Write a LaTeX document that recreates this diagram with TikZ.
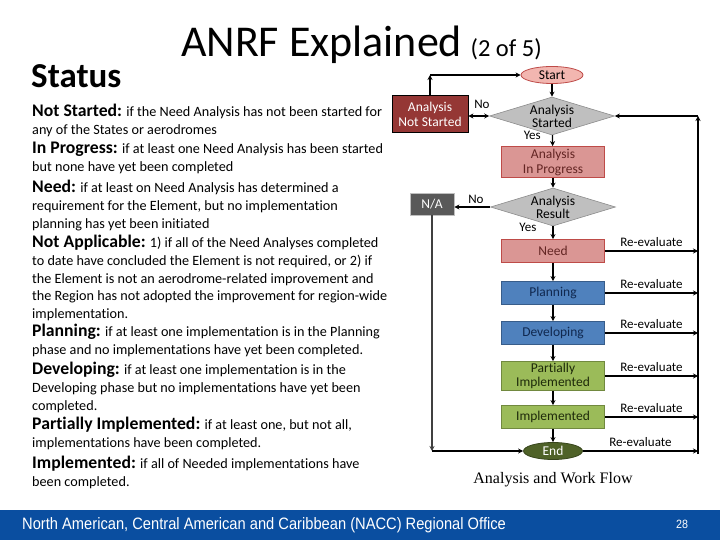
\documentclass[tikz,border=0pt]{standalone}
\usepackage{fontspec}
\setmainfont{Carlito}[Ligatures=NoCommon]
\newfontfamily\footfont[FakeStretch=0.89]{Liberation Sans}
\newfontfamily\capfont{Liberation Serif}
\usepackage{xcolor}
\usetikzlibrary{arrows.meta, positioning, shapes.geometric}

\definecolor{nsred}{HTML}{953735}
\definecolor{startfill}{HTML}{F2B6B0}
\definecolor{redline}{HTML}{BE4B48}
\definecolor{pinkfill}{HTML}{DA9694}
\definecolor{pinktext}{HTML}{632523}
\definecolor{decfill}{HTML}{BFBFBF}
\definecolor{decline}{HTML}{8C8C8C}
\definecolor{bluefill}{HTML}{4F81BD}
\definecolor{blueline}{HTML}{385D8A}
\definecolor{bluetext}{HTML}{10284F}
\definecolor{greenfill}{HTML}{9BBB59}
\definecolor{greenline}{HTML}{71893F}
\definecolor{greentext}{HTML}{1E2A0A}
\definecolor{endfill}{HTML}{4F6228}
\definecolor{nafill}{HTML}{595959}
\definecolor{footblue}{HTML}{0A4EA0}

\newcommand{\term}[1]{{\fontsize{17.7}{17.7}\selectfont\bfseries #1}}

\begin{document}
\begin{tikzpicture}[
  x=1pt, y=-1pt,
  desc/.style={anchor=north west, align=left, inner sep=0pt, font=\fontsize{14.2}{17.7}\selectfont},
  stage/.style={draw, minimum width=103pt, minimum height=23pt, inner sep=1pt, align=center, line width=0.8pt, font=\fontsize{13.5}{15}\selectfont},
  term/.style={ellipse, draw, minimum width=62pt, minimum height=17pt, inner sep=0pt, line width=0.8pt, font=\fontsize{13.5}{15}\selectfont},
  decision/.style={diamond, draw=decline, fill=decfill, aspect=3.3, inner sep=-2.5pt, minimum width=125pt, minimum height=38pt, align=center, line width=0.6pt, font=\fontsize{13.5}{13}\selectfont},
  flow/.style={-{Stealth[length=5pt, width=5pt]}, line width=1.3pt},
  lbl/.style={font=\fontsize{13}{15}\selectfont, inner sep=1pt},
  relbl/.style={font=\fontsize{13}{15}\selectfont, inner sep=1pt, above=3pt}
]
  \useasboundingbox (0,0) rectangle (720,540);

  % Title
  \node[anchor=base west, inner sep=0pt, font=\fontsize{44}{50}\selectfont] (title) at (181,57) {ANRF Explained};
  \node[inner sep=0pt, font=\fontsize{24.5}{28}\selectfont, right=8pt of title.base east, anchor=base west] (part) {(2 of 5)};
  \node[anchor=base west, inner sep=0pt, font=\fontsize{35}{40}\selectfont\bfseries] (status) at (31,88) {Status};

  % Status descriptions
  \node[desc] (d1) at (32,104) {\term{Not Started:} if the Need Analysis has not been started for\\any of the States or aerodromes};
  \node[desc] (d2) at (32,142) {\term{In Progress:} if at least one Need Analysis has been started\\but none have yet been completed};
  \node[desc] (d3) at (32,180) {\term{Need:} if at least on Need Analysis has determined a\\requirement for the Element, but no implementation\\planning has yet been initiated};
  \node[desc] (d4) at (32,235) {\term{Not Applicable:} 1) if all of the Need Analyses completed\\to date have concluded the Element is not required, or 2) if\\the Element is not an aerodrome-related improvement and\\the Region has not adopted the improvement for region-wide\\implementation.};
  \node[desc] (d5) at (32,324) {\term{Planning:} if at least one implementation is in the Planning\\phase and no implementations have yet been completed.};
  \node[desc] (d6) at (32,362) {\term{Developing:} if at least one implementation is in the\\Developing phase but no implementations have yet been\\completed.};
  \node[desc] (d7) at (32,417) {\term{Partially Implemented:} if at least one, but not all,\\implementations have been completed.};
  \node[desc] (d8) at (32,456) {\term{Implemented:} if all of Needed implementations have\\been completed.};

  % Flow chart
  \node[term, fill=startfill, draw=redline] (start) at (552,75) {Start};
  \node[decision] (started) at (552,116) {Analysis\\Started};
  \node[stage, fill=nsred, draw=black, text=white, minimum width=76pt, minimum height=37pt] (notstarted) at (430,114) {Analysis\\Not Started};
  \node[stage, fill=pinkfill, draw=redline, text=pinktext, minimum height=31pt] (progress) at (553,162) {Analysis\\In Progress};
  \node[decision] (result) at (553,207) {Analysis\\Result};
  \node[stage, fill=nafill, draw=decfill, text=white, minimum width=44pt, minimum height=22pt] (na) at (432,204) {N/A};
  \node[stage, fill=pinkfill, draw=redline, text=pinktext] (need) at (553,251) {Need};
  \node[stage, fill=bluefill, draw=blueline, text=bluetext] (planning) at (553,293) {Planning};
  \node[stage, fill=bluefill, draw=blueline, text=bluetext] (developing) at (553,333) {Developing};
  \node[stage, fill=greenfill, draw=greenline, text=greentext, minimum height=29pt, font=\fontsize{13.5}{13.5}\selectfont] (partial) at (553,376) {Partially\\Implemented};
  \node[stage, fill=greenfill, draw=greenline, text=greentext] (implemented) at (553,417) {Implemented};
  \node[term, fill=endfill, draw=endfill!70!black, text=white, minimum width=59pt] (end) at (553,451) {End};

  \coordinate (loop) at (698,116);

  % Main column
  \draw[flow] (start) -- (started);
  \draw[flow] (started) -- node[lbl, pos=0.05, left=10pt] {Yes} (progress);
  \draw[flow] (progress) -- (result);
  \draw[flow] (result) -- node[lbl, pos=0.1, left=15pt] {Yes} (need);
  \draw[flow] (need) -- (planning);
  \draw[flow] (planning) -- (developing);
  \draw[flow] (developing) -- (partial);
  \draw[flow] (partial) -- (implemented);
  \draw[flow] (implemented) -- (end);

  % Not started branch
  \draw[flow, {Stealth[length=5pt, width=5pt]}-{Stealth[length=5pt, width=5pt]}] (started.west) -- node[lbl, pos=0.35, above=6pt] {No} (started.west -| notstarted.east);
  \draw[flow] (notstarted.north) -- (notstarted.north |- start.west);
  \draw[flow] (notstarted.north |- start.west) -- (start.west);

  % N/A branch
  \draw[flow] (result.west) -- node[lbl, pos=0.4, above=2pt] {No} (result.west -| na.east);
  \draw[flow, black!75] (na.south) -- (na.south |- end.west);
  \draw[flow] (na.south |- end.west) -- (end.west);

  % Re-evaluate
  \draw[flow] (need.east) -- node[relbl] {Re-evaluate} (need.east -| loop);
  \draw[flow] (planning.east) -- node[relbl] {Re-evaluate} (planning.east -| loop);
  \draw[flow] (developing.east) -- node[relbl] {Re-evaluate} (developing.east -| loop);
  \draw[flow] (partial.east) -- node[relbl] {Re-evaluate} (partial.east -| loop);
  \draw[flow] (implemented.east) -- node[relbl] {Re-evaluate} (implemented.east -| loop);
  \draw[flow] (end.east) -- node[relbl] {Re-evaluate} (end.east -| loop);
  \draw[flow] ([yshift=-3pt]end.east -| loop) -- (loop);
  \draw[flow] (loop) -- (started.east);

  \node[font=\capfont\fontsize{16}{18}\selectfont, below=9pt of end] (caption) {Analysis and Work Flow};

  % Footer
  \fill[footblue] (0,510) rectangle (720,540);
  \node[anchor=west, inner sep=0pt, text=white, font=\footfont\fontsize{16.5}{18}\selectfont] (office) at (22,525) {North American, Central American and Caribbean (NACC) Regional Office};
  \node[inner sep=0pt, text=white, font=\footfont\fontsize{12}{14}\selectfont] (page) at (682,524) {28};
\end{tikzpicture}
\end{document}
